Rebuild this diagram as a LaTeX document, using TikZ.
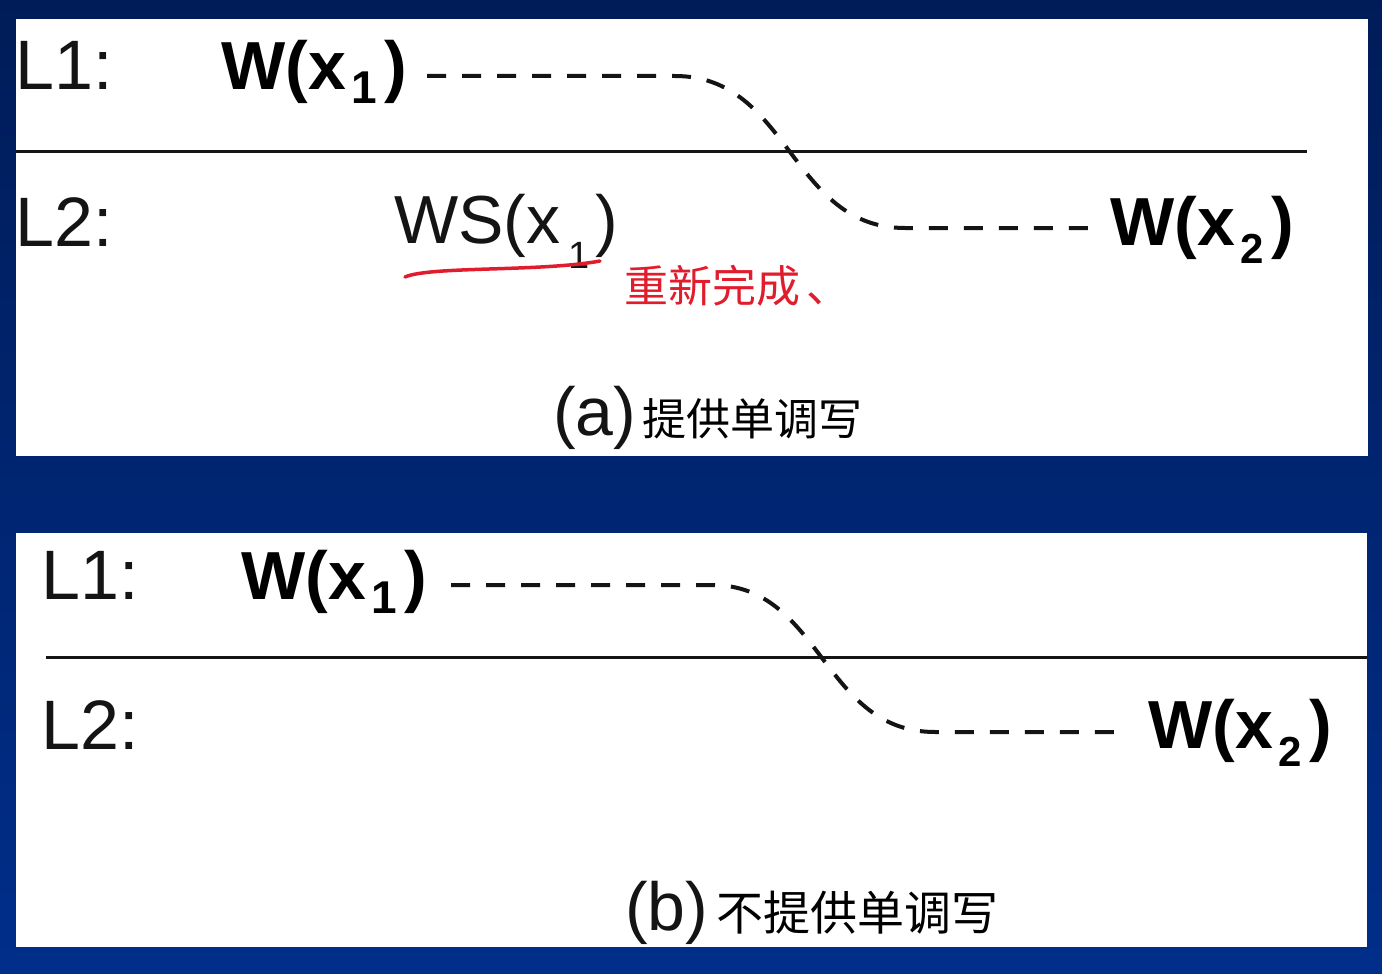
\documentclass[tikz,border=0pt]{standalone}
\usepackage{fontspec}
\setmainfont{Liberation Sans}
\newfontfamily\cjk{Noto Sans CJK SC}
\definecolor{bgtop}{RGB}{0,28,88}
\definecolor{bgbot}{RGB}{0,46,138}
\definecolor{inkred}{RGB}{225,28,45}
\definecolor{inkline}{RGB}{20,20,20}
\newcommand{\subrl}[3]{\raisebox{#1}{\fontsize{#2}{#2}\selectfont #3}}
\tikzset{
  panel/.style={fill=white, draw=none},
  lab/.style={font=\fontsize{70}{70}\selectfont, inner sep=0pt, anchor=base west, text=inkline},
  wbold/.style={font=\fontsize{68}{68}\selectfont\bfseries, inner sep=0pt, anchor=base west, text=black},
  wreg/.style={font=\fontsize{68}{68}\selectfont, inner sep=0pt, anchor=base west, text=inkline},
  captext/.style={font=\fontsize{68}{68}\selectfont, inner sep=0pt, anchor=base west, text=inkline},
  hand/.style={font=\cjk\fontsize{44}{44}\selectfont, inner sep=0pt, anchor=base west, text=black},
  handb/.style={font=\cjk\fontsize{47}{47}\selectfont, inner sep=0pt, anchor=base west, text=black},
  redhand/.style={font=\cjk\fontsize{44}{44}\selectfont, inner sep=0pt, anchor=base west, text=inkred},
  level/.style={line width=3pt, draw=inkline},
  prop/.style={line width=4pt, draw=inkline, dash pattern=on 19pt off 16pt},
}
\begin{document}
\begin{tikzpicture}[x=1pt, y=-1pt]
\useasboundingbox (0,0) rectangle (1382,974);
\shade[top color=bgtop, bottom color=bgbot] (0,0) rectangle (1382,974);
% panels
\fill[panel] (16,19) rectangle (1368,456);
\fill[panel] (16,533) rectangle (1367,947);

% ---------------- panel (a)
\draw[level] (16,151) -- (1307,151);
\node[lab] (aL1) at (15,89) {L1:};
\node[lab] (aL2) at (15,246) {L2:};
\node[wbold] (aW1) at (221,89) {W(x\hspace{6pt}\subrl{-14pt}{46pt}{1}\hspace{7pt})};
\node[wreg] (aWS) at (394,243) {WS(x\hspace{8pt}\subrl{-25pt}{38pt}{1}\hspace{6pt})};
\node[wbold] (aW2) at (1110,245) {W(x\hspace{6pt}\subrl{-18pt}{42pt}{2}\hspace{7pt})};
\coordinate (as) at (427,76);
\coordinate (am1) at (675,76);
\coordinate (am2) at (905,228);
\coordinate (ae) at (1088,228);
\draw[prop] (as) -- (am1) .. controls (790,76) and (790,228) .. (am2) -- (ae);
% red annotation
\coordinate (ru1) at (405,277);
\coordinate (ru2) at (600,261);
\draw[inkred, line width=3.5pt, line cap=round] (ru1) .. controls (430,266) and (540,272) .. (ru2);
\node[redhand] (ared) at (624,302) {重新完成\hspace{6pt}、};
\node[captext] (acap) at (553,435) {(a)};
\node[hand] (acapz) at (acap.base east) {\hspace{6pt}提供单调写};

% ---------------- panel (b)
\draw[level] (46,657) -- (1367,657);
\node[lab] (bL1) at (41,599) {L1:};
\node[lab] (bL2) at (41,749) {L2:};
\node[wbold] (bW1) at (241,599) {W(x\hspace{6pt}\subrl{-14pt}{46pt}{1}\hspace{7pt})};
\node[wbold] (bW2) at (1148,748) {W(x\hspace{6pt}\subrl{-18pt}{42pt}{2}\hspace{7pt})};
\coordinate (bs) at (451,585);
\coordinate (bm1) at (712,585);
\coordinate (bm2) at (935,732);
\coordinate (be) at (1125,732);
\draw[prop] (bs) -- (bm1) .. controls (822,585) and (822,732) .. (bm2) -- (be);
\node[captext] (bcap) at (625,930) {(b)};
\node[handb] (bcapz) at (bcap.base east) {\hspace{8pt}不提供单调写};
\end{tikzpicture}
\end{document}
